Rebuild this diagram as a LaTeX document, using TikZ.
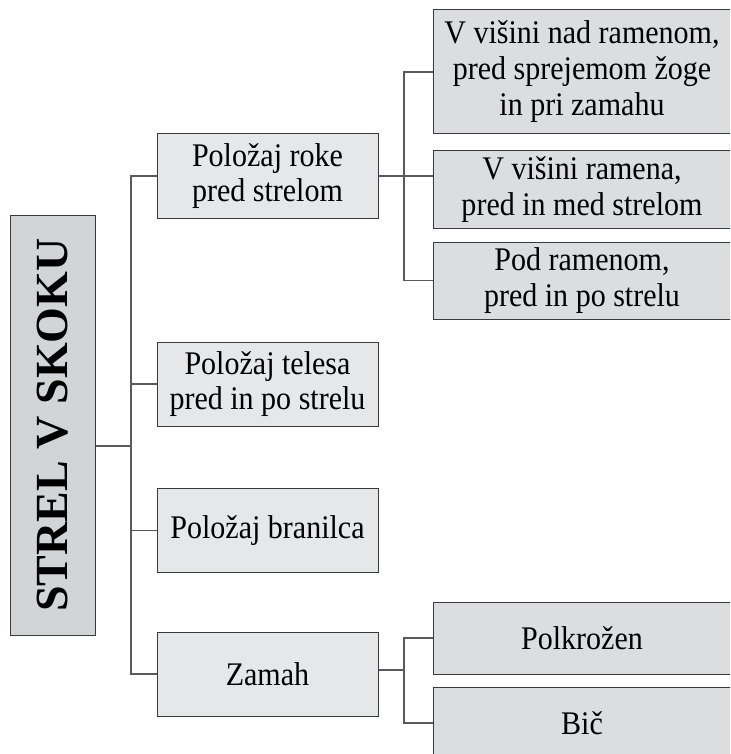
\documentclass[tikz,border=0pt]{standalone}
\usepackage{fontspec}
\setmainfont[FakeStretch=0.91]{Liberation Serif}
\newfontfamily\rootfont{Liberation Serif}
\definecolor{edgegray}{HTML}{3A3A3C}
\definecolor{linegray}{HTML}{5A5A5C}
\definecolor{rootgray}{HTML}{D3D4D6}
\definecolor{midgray}{HTML}{E6E7E8}
\definecolor{subgray}{HTML}{DCDDDF}
\begin{document}
\begin{tikzpicture}
  [x=1pt,y=-1pt,
  rootbox/.style={draw=edgegray,fill=rootgray,line width=1pt,inner sep=0pt,minimum width=420pt,minimum height=85pt,rotate=90,font=\rootfont\fontsize{46}{50}\selectfont\bfseries},
  midbox/.style={draw=edgegray,fill=midgray,line width=1pt,inner sep=0pt,minimum width=221pt,minimum height=84pt,align=center,font=\fontsize{33}{35}\selectfont},
  subbox/.style={draw=edgegray,fill=subgray,line width=1pt,inner sep=0pt,minimum width=298pt,align=center,font=\fontsize{33}{36}\selectfont},
  conn/.style={draw=linegray,line width=1.2pt}]
  \path[use as bounding box,clip] (0,0) rectangle (730,754);

  \node[rootbox] (0) at (52.5,425) {STREL V SKOKU};

  \node[midbox] (1) at (267.5,176) {Položaj roke\\pred strelom};
  \node[midbox] (2) at (267.5,384) {Položaj telesa\\pred in po strelu};
  \node[midbox] (3) at (267.5,530.5) {Položaj branilca};
  \node[midbox] (4) at (267.5,674) {Zamah};

  \node[subbox,minimum height=124pt] (11) at (582,72) {V višini nad ramenom,\\pred sprejemom žoge\\in pri zamahu};
  \node[subbox,minimum height=77pt] (12) at (582,189.5) {V višini ramena,\\pred in med strelom};
  \node[subbox,minimum height=77pt] (13) at (582,280.5) {Pod ramenom,\\pred in po strelu};

  \node[subbox,minimum height=72pt] (41) at (582,638) {Polkrožen};
  \node[subbox,minimum height=72pt] (42) at (582,723) {Bič};

  \coordinate (t0) at (131,446);
  \coordinate (s1) at (404,176);
  \coordinate (s4) at (404,670);

  \draw[conn] (0.south|-t0) -- (t0);
  \draw[conn] (1.west) -| (t0) |- (4.west);
  \draw[conn] (2.west) -- (2.west-|t0);
  \draw[conn] (3.west) -- (3.west-|t0);

  \draw[conn] (1.east) -- (12.west|-s1);
  \draw[conn] (11.west) -| (s1) |- (13.west);

  \draw[conn] (4.east|-s4) -- (s4);
  \draw[conn] (41.west) -| (s4) |- (42.west);
\end{tikzpicture}
\end{document}
